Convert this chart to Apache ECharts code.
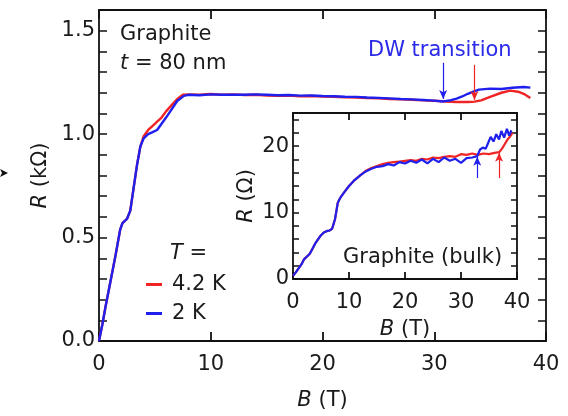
<!DOCTYPE html>
<html>
<head>
<meta charset="utf-8">
<script src="https://cdn.jsdelivr.net/npm/echarts@6/dist/echarts.min.js"></script>
<style>
  html, body { margin: 0; padding: 0; background: #fff; }
  #chart { width: 568px; height: 416px; }
</style>
</head>
<body>
<div id="chart"></div>
<script>
// Magnetoresistance of an 80 nm graphite flake (main panel, kΩ)
const bMainRed = [0, 0.3, 0.6, 1.0, 1.5, 1.9, 2.1, 2.5, 2.8, 3.1, 3.4, 3.7, 4.0, 4.4, 4.8, 5.2, 5.6, 6.0, 6.5, 7.0, 7.5, 8.0, 9, 10, 11, 12, 13, 14, 15, 16, 17, 18, 19, 20, 21, 22, 23, 24, 25, 26, 27, 28, 29, 30, 31, 32, 33, 33.6, 34.2, 35, 36, 36.8, 37.5, 38, 38.6];
const rMainRed = [0.0, 0.08, 0.17, 0.28, 0.42, 0.54, 0.57, 0.59, 0.63, 0.74, 0.85, 0.94, 0.99, 1.02, 1.04, 1.06, 1.08, 1.11, 1.14, 1.17, 1.19, 1.192, 1.19, 1.194, 1.19, 1.192, 1.189, 1.19, 1.187, 1.185, 1.186, 1.183, 1.184, 1.182, 1.18, 1.178, 1.177, 1.174, 1.173, 1.17, 1.168, 1.166, 1.163, 1.161, 1.158, 1.155, 1.155, 1.157, 1.163, 1.18, 1.2, 1.21, 1.205, 1.195, 1.175];

const bMainBlue = [0, 0.3, 0.6, 1.0, 1.5, 1.9, 2.1, 2.5, 2.8, 3.1, 3.4, 3.7, 4.0, 4.4, 4.8, 5.2, 5.6, 6.0, 6.5, 7.0, 7.6, 8.0, 9, 10, 11, 12, 13, 14, 15, 16, 17, 18, 19, 20, 21, 22, 23, 24, 25, 26, 27, 28, 29, 30, 30.8, 31.5, 32, 32.5, 33, 33.5, 34, 35, 36, 37, 38, 38.6];
const rMainBlue = [0.0, 0.08, 0.17, 0.28, 0.42, 0.54, 0.57, 0.59, 0.63, 0.74, 0.85, 0.94, 0.98, 1.0, 1.01, 1.02, 1.05, 1.08, 1.12, 1.16, 1.185, 1.19, 1.188, 1.192, 1.19, 1.191, 1.19, 1.192, 1.19, 1.188, 1.189, 1.186, 1.187, 1.184, 1.183, 1.181, 1.18, 1.177, 1.175, 1.173, 1.17, 1.168, 1.165, 1.162, 1.158, 1.164, 1.172, 1.182, 1.195, 1.205, 1.215, 1.22, 1.218, 1.224, 1.228, 1.225];

// Bulk graphite (inset, Ω)
const bInsetRed = [0, 0.5, 1, 1.5, 2, 2.5, 3, 3.5, 4, 4.5, 5, 5.5, 6, 6.5, 7, 7.5, 8, 8.5, 9, 10, 11, 12, 13, 14, 15, 16, 17, 18, 19, 20, 21, 22, 23, 24, 25, 26, 27, 28, 29, 30, 31, 32, 33, 34, 35, 36, 36.8, 37.3, 37.8, 38.3, 38.8, 39.2];
const rInsetRed = [0.5, 1.0, 1.6, 2.2, 3.0, 3.4, 3.8, 4.6, 5.4, 6.0, 6.6, 7.0, 7.2, 7.3, 7.6, 9.0, 11.5, 12.3, 12.9, 14.0, 14.9, 15.6, 16.3, 16.7, 17.0, 17.3, 17.5, 17.6, 17.7, 17.8, 17.9, 17.8, 18.1, 18.0, 18.3, 18.2, 18.4, 18.5, 18.4, 18.8, 18.7, 18.9, 18.7, 18.9, 18.8, 19.0, 19.1, 19.6, 20.3, 21.0, 21.5, 22.0];

const bInsetBlue = [0, 0.5, 1, 1.5, 2, 2.5, 3, 3.5, 4, 4.5, 5, 5.5, 6, 6.5, 7, 7.5, 8, 8.5, 9, 10, 11, 12, 13, 14, 15, 16, 17, 18, 19, 20, 21, 22, 23, 24, 25, 26, 27, 28, 29, 30, 31, 32, 32.9, 33.4, 33.9, 34.4, 34.9, 35.3, 35.8, 36.3, 36.8, 37.2, 37.7, 38.2, 38.6, 39.0];
const rInsetBlue = [0.5, 1.0, 1.6, 2.2, 3.0, 3.4, 3.8, 4.6, 5.4, 6.0, 6.6, 7.0, 7.2, 7.3, 7.6, 9.0, 11.5, 12.3, 12.9, 14.0, 14.9, 15.6, 16.2, 16.6, 16.9, 17.0, 17.3, 17.1, 17.6, 17.4, 17.8, 17.5, 18.0, 17.4, 18.1, 17.6, 18.3, 17.8, 18.1, 17.5, 18.2, 18.3, 18.5, 19.5, 19.8, 19.6, 20.6, 21.4, 20.7, 21.8, 21.0, 22.3, 21.3, 22.6, 21.6, 22.4];

// Transition field markers [B, R_top, R_bottom]
const dwMainBlue = [30.8, 1.345, 1.17];
const dwMainRed = [33.6, 1.335, 1.165];
const dwInsetBlue = [32.9, 18.4, 15.2];
const dwInsetRed = [36.8, 19.0, 15.2];

// Tick labels
const mainYLabels = [0, 0.5, 1.0, 1.5];
const insetYLabels = [0, 10, 20];

const RED = '#f02424';
const BLUE = '#1f1fee';
const FONT = 'DejaVu Sans';
const TXT = '#1a1a1a';

const pairs = (xs, ys) => xs.map((x, i) => [x, ys[i]]);
const near = (v, list) => list.some(t => Math.abs(v - t) < 1e-6);

function xAxisDef(grid, pos, labels, tickLen, extra) {
  return Object.assign({
    type: 'value', gridIndex: grid, position: pos, min: 0, max: 40, interval: 10,
    axisLine: { show: true, onZero: false, lineStyle: { color: '#111', width: 1.8 } },
    axisTick: { show: true, inside: true, length: tickLen, lineStyle: { color: '#111', width: 1.8 } },
    axisLabel: { show: labels, margin: 13, color: TXT, fontFamily: FONT, fontSize: 21 },
    splitLine: { show: false }
  }, extra || {});
}

function yAxisDef(grid, pos, max, interval, tickLen, labelList, labelFmt, extra) {
  return Object.assign({
    type: 'value', gridIndex: grid, position: pos, min: 0, max: max, interval: interval,
    axisLine: { show: true, onZero: false, lineStyle: { color: '#111', width: 1.8 } },
    axisTick: { show: true, inside: true, length: tickLen, lineStyle: { color: '#111', width: 1.5 } },
    axisLabel: {
      show: !!labelList, margin: 4, color: TXT, fontFamily: FONT, fontSize: 21,
      showMaxLabel: false,
      formatter: v => (labelList && near(v, labelList)) ? labelFmt(v) : ''
    },
    splitLine: { show: false }
  }, extra || {});
}

function arrowLine(x, yTop, yBot, color, head) {
  return {
    silent: true, animation: false,
    symbol: head, symbolSize: [6, 9],
    label: { show: false },
    lineStyle: { color: color, width: 1.2, type: 'solid' },
    emphasis: { disabled: true },
    data: [[{ coord: [x, yTop] }, { coord: [x, yBot] }]]
  };
}

const nameStyle = {
  color: TXT, fontFamily: FONT, fontSize: 21,
  rich: { i: { fontStyle: 'italic', fontFamily: FONT, fontSize: 21, color: TXT } }
};

const chart = echarts.init(document.getElementById('chart'), null, { renderer: 'canvas' });

chart.setOption({
  animation: false,
  backgroundColor: '#ffffff',
  grid: [
    { left: 99, top: 10, width: 447, height: 335, containLabel: false },
    { left: 293, top: 113, width: 224, height: 166, containLabel: false,
      show: true, backgroundColor: '#ffffff', borderWidth: 0, z: 5 }
  ],
  xAxis: [
    xAxisDef(0, 'bottom', true, 9, {
      name: '{i|B} (T)', nameLocation: 'middle', nameGap: 49, nameTextStyle: nameStyle
    }),
    xAxisDef(0, 'top', false, 9),
    xAxisDef(1, 'bottom', true, 7, {
      z: 6, name: '{i|B} (T)', nameLocation: 'middle', nameGap: 40, nameTextStyle: nameStyle
    }),
    xAxisDef(1, 'top', false, 7, { z: 6 })
  ],
  yAxis: [
    yAxisDef(0, 'left', 1.6, 0.1, 8, mainYLabels, v => v.toFixed(1), {
      name: '{i|R} (kΩ)', nameLocation: 'middle', nameGap: 47, nameTextStyle: nameStyle
    }),
    yAxisDef(0, 'right', 1.6, 0.1, 8, null, v => ''),
    yAxisDef(1, 'left', 25, 2, 6, insetYLabels, v => String(Math.round(v)), {
      z: 6, name: '{i|R} (Ω)', nameLocation: 'middle', nameGap: 36, nameTextStyle: nameStyle
    }),
    yAxisDef(1, 'right', 25, 2, 6, null, v => '', { z: 6 })
  ],
  legend: {
    orient: 'vertical', left: 141, top: 269, itemGap: 8,
    icon: 'rect', itemWidth: 16, itemHeight: 3,
    data: ['4.2 K', '2 K'],
    textStyle: { color: TXT, fontFamily: FONT, fontSize: 21, padding: [0, 0, 0, 5] },
    selectedMode: false
  },
  series: [
    {
      name: '4.2 K', type: 'line', xAxisIndex: 0, yAxisIndex: 0,
      data: pairs(bMainRed, rMainRed), showSymbol: false, symbol: 'none',
      lineStyle: { color: RED, width: 2.4 }, itemStyle: { color: RED }, z: 2,
      markLine: arrowLine(dwMainRed[0], dwMainRed[1], dwMainRed[2], RED, ['none', 'arrow'])
    },
    {
      name: '2 K', type: 'line', xAxisIndex: 0, yAxisIndex: 0,
      data: pairs(bMainBlue, rMainBlue), showSymbol: false, symbol: 'none',
      lineStyle: { color: BLUE, width: 2.4 }, itemStyle: { color: BLUE }, z: 3,
      markLine: arrowLine(dwMainBlue[0], dwMainBlue[1], dwMainBlue[2], BLUE, ['none', 'arrow'])
    },
    {
      name: '4.2 K', type: 'line', xAxisIndex: 2, yAxisIndex: 2,
      data: pairs(bInsetRed, rInsetRed), showSymbol: false, symbol: 'none',
      lineStyle: { color: RED, width: 2.2 }, itemStyle: { color: RED }, z: 7,
      markLine: arrowLine(dwInsetRed[0], dwInsetRed[1], dwInsetRed[2], RED, ['arrow', 'none'])
    },
    {
      name: '2 K', type: 'line', xAxisIndex: 2, yAxisIndex: 2,
      data: pairs(bInsetBlue, rInsetBlue), showSymbol: false, symbol: 'none',
      lineStyle: { color: BLUE, width: 2.2 }, itemStyle: { color: BLUE }, z: 8,
      markLine: arrowLine(dwInsetBlue[0], dwInsetBlue[1], dwInsetBlue[2], BLUE, ['arrow', 'none'])
    }
  ],
  graphic: [
    { type: 'text', left: 120, top: 24, z: 20,
      style: { text: 'Graphite', fill: TXT, font: '21px "DejaVu Sans"' } },
    { type: 'text', left: 120, top: 53, z: 20,
      style: { text: '{i|t} = 80 nm', fill: TXT, font: '21px "DejaVu Sans"',
        rich: { i: { fontStyle: 'italic', fontFamily: FONT, fontSize: 21, fill: TXT } } } },
    { type: 'text', left: 368, top: 40, z: 20,
      style: { text: 'DW transition', fill: '#2a2ae8', font: '21px "DejaVu Sans"' } },
    { type: 'text', left: 170, top: 243, z: 20,
      style: { text: '{i|T} =', fill: TXT, font: '21px "DejaVu Sans"',
        rich: { i: { fontStyle: 'italic', fontFamily: FONT, fontSize: 21, fill: TXT } } } },
    { type: 'text', left: 343, top: 247, z: 20,
      style: { text: 'Graphite (bulk)', fill: TXT, font: '21px "DejaVu Sans"' } },
    { type: 'polygon', z: 20,
      shape: { points: [[0, 169], [8, 173], [0, 177], [2, 173]] },
      style: { fill: '#111' } }
  ]
});
</script>
</body>
</html>
